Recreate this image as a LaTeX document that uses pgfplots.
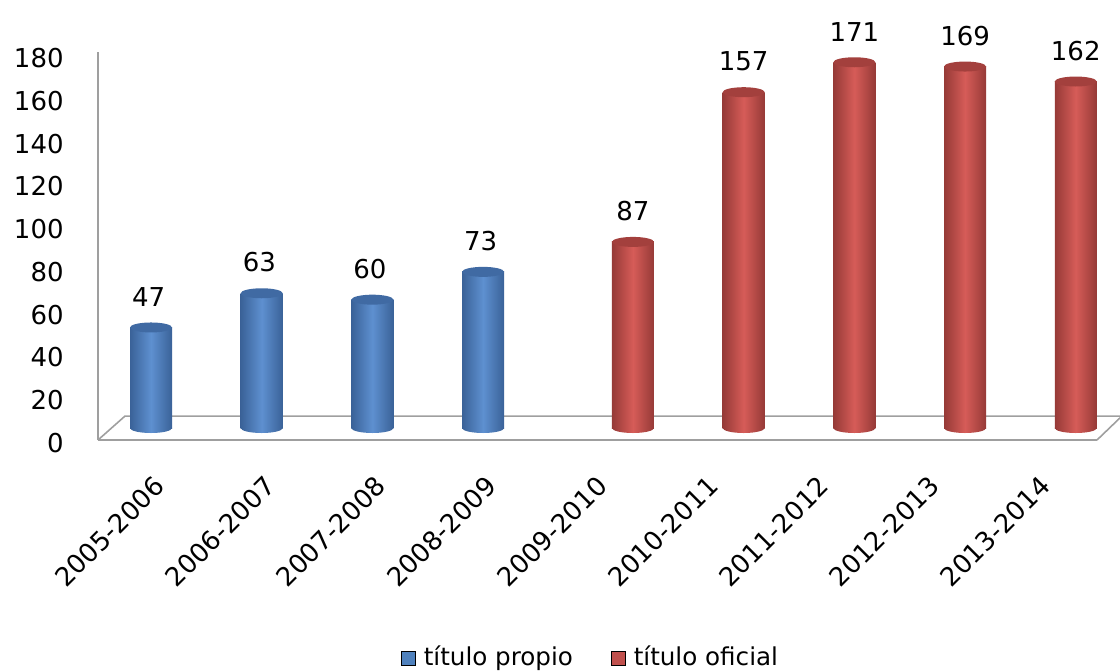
\documentclass[border=0pt]{standalone}
\usepackage{pgfplots}
\pgfplotsset{compat=1.18}
\usepackage{fontspec}
\setmainfont{DejaVu Sans}
\usetikzlibrary{shapes.geometric}
\definecolor{bluedk}{RGB}{58,98,152}
\definecolor{bluelt}{RGB}{94,144,208}
\definecolor{bluetop}{RGB}{64,106,163}
\definecolor{reddk}{RGB}{150,58,55}
\definecolor{redlt}{RGB}{214,92,88}
\definecolor{redtop}{RGB}{163,64,61}
\definecolor{blueleg}{RGB}{79,129,189}
\definecolor{redleg}{RGB}{192,80,77}
\pgfplotsset{
  basebar/.style={forget plot, ybar, bar width=21pt, yshift=6pt},
  bluebar/.style={basebar, bar shift=-9.8pt, draw=none, left color=bluedk, right color=bluedk, middle color=bluelt},
  redbar/.style={basebar, bar shift=9.8pt, draw=none, left color=reddk, right color=reddk, middle color=redlt},
  ellnode/.style={nodes near coords={}, every node near coord/.append style={ellipse, minimum width=21pt, minimum height=5pt, inner sep=0pt, anchor=center, #1}},
  bluebot/.style={basebar, bar shift=-9.8pt, draw=none, fill=none, ellnode={xshift=-9.8pt, left color=bluedk, right color=bluedk, middle color=bluelt}},
  redbot/.style={basebar, bar shift=9.8pt, draw=none, fill=none, ellnode={xshift=9.8pt, left color=reddk, right color=reddk, middle color=redlt}},
  bluetopst/.style={basebar, bar shift=-9.8pt, draw=none, fill=none, ellnode={xshift=-9.8pt, fill=bluetop}},
  redtopst/.style={basebar, bar shift=9.8pt, draw=none, fill=none, ellnode={xshift=9.8pt, fill=redtop}},
  vallab/.style={basebar, draw=none, fill=none, nodes near coords, every node near coord/.append style={anchor=south, yshift=6pt, xshift=#1, font=\fontsize{13}{15}\selectfont}},
}
\begin{document}
\fontsize{13}{15}\selectfont
\begin{tikzpicture}
\begin{axis}[
  scale only axis, width=499.5pt, height=194pt,
  xmin=-0.656, xmax=8.369, ymin=0, ymax=181.4,
  axis x line=bottom, axis y line=left,
  axis line style={-, draw=gray!75, line width=0.8pt},
  ytick={0,20,...,180},
  xtick={0,...,8},
  xticklabels={2005-2006,2006-2007,2007-2008,2008-2009,2009-2010,2010-2011,2011-2012,2012-2013,2013-2014},
  major tick length=0pt,
  /pgf/number format/assume math mode=true,
  yticklabel style={anchor=east, inner sep=0pt, xshift=-17pt, yshift=-1.5pt},
  xticklabel style={inner sep=0pt, xshift=-9pt, yshift=-17pt, rotate=45, anchor=north east},
  tick label style={font=\fontsize{13}{15}\selectfont},
  clip=false,
  legend style={at={(0.494,0)}, anchor=center, yshift=-109pt, draw=none, fill=none,
    legend columns=-1, font=\fontsize{12.3}{15}\selectfont,
    /tikz/every even column/.append style={column sep=17pt}},
  legend image code/.code={\fill[#1] (0pt,-3.5pt) rectangle (7pt,3.5pt);},
]
\addlegendimage{fill=blueleg}
\addlegendentry{\hspace{2pt}título propio}
\addlegendimage{fill=redleg}
\addlegendentry{\hspace{2pt}título oficial}

% floor
\draw[gray!75, line width=0.8pt] (axis cs:-0.656,0) -- (axis cs:-0.412,11.2) -- (axis cs:8.594,11.2) -- (axis cs:8.369,0);

% bottom ellipses
\addplot[bluebot] coordinates {(0,0)(1,0)(2,0)(3,0)};
\addplot[redbot] coordinates {(4,0)(5,0)(6,0)(7,0)(8,0)};

% bars (one plot per bar so each gets its own cylinder shading)
\addplot[bluebar] coordinates {(0,47)};
\addplot[bluebar] coordinates {(1,63)};
\addplot[bluebar] coordinates {(2,60)};
\addplot[bluebar] coordinates {(3,73)};
\addplot[redbar] coordinates {(4,87)};
\addplot[redbar] coordinates {(5,157)};
\addplot[redbar] coordinates {(6,171)};
\addplot[redbar] coordinates {(7,169)};
\addplot[redbar] coordinates {(8,162)};

% top ellipses
\addplot[bluetopst] coordinates {(0,47)(1,63)(2,60)(3,73)};
\addplot[redtopst] coordinates {(4,87)(5,157)(6,171)(7,169)(8,162)};

% value labels
\addplot[vallab=-11pt] coordinates {(0,47)(1,63)(2,60)(3,73)};
\addplot[vallab=9.8pt] coordinates {(4,87)(5,157)(6,171)(7,169)(8,162)};
\end{axis}
\pgfresetboundingbox
\path (-49pt,-115.5pt) rectangle (511pt,220pt);
\end{tikzpicture}
\end{document}
